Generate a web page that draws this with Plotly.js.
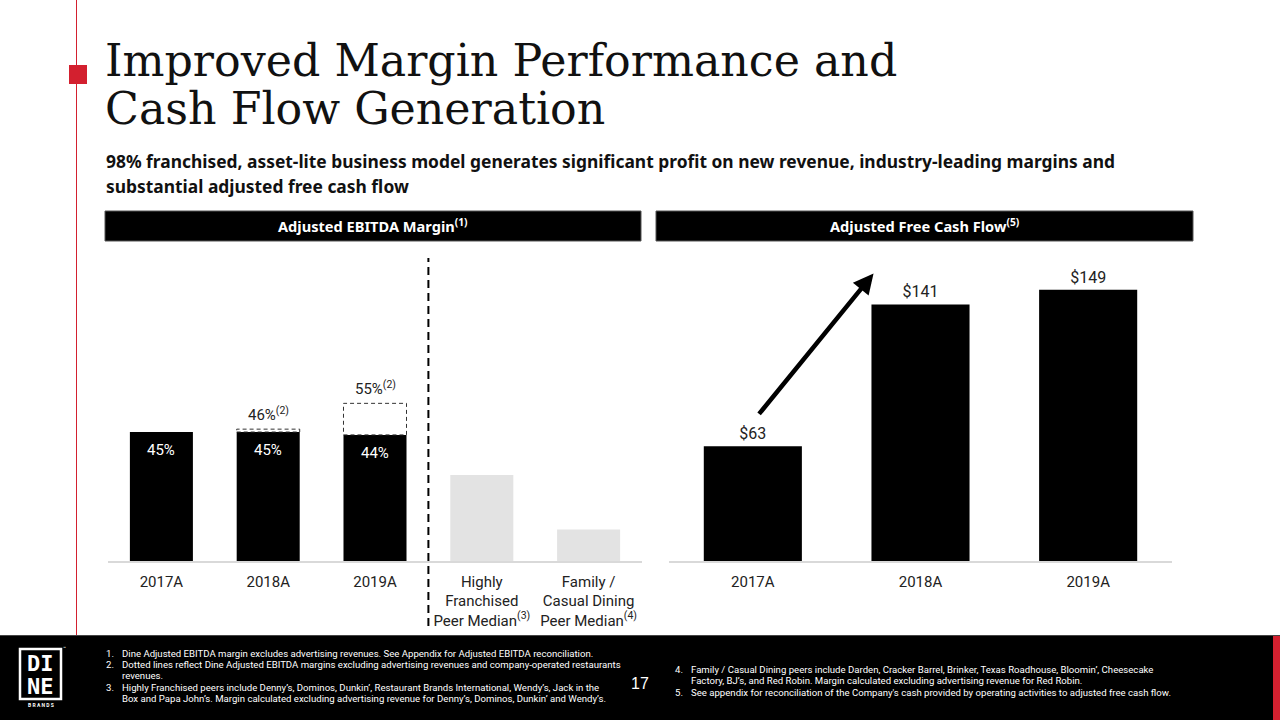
<!DOCTYPE html>
<html><head><meta charset="utf-8">
<script src="https://cdn.plot.ly/plotly-3.0.1.min.js"></script>
<style>html,body{margin:0;padding:0;background:#fff;} #chart{width:1280px;height:720px;}</style>
</head><body><div id="chart"></div>
<script>
// ---------------- DATA ----------------
const marginCats = ['2017A','2018A','2019A',
  'Highly<br>Franchised<br>Peer Median<sup>(3)</sup>',
  'Family /<br>Casual Dining<br>Peer Median<sup>(4)</sup>'];
const dineMargin = [45, 45, 44, null, null];          // Adjusted EBITDA margin (%)
const peerMargin = [null, null, null, 30, 11];         // peer medians (%), estimated
const dineMarginExCo = [null, 46, 55, null, null];     // excl. adv. & company-operated (%)
const fcfCats = ['2017A','2018A','2019A'];
const fcfValues = [63, 141, 149];                      // Adjusted free cash flow ($M)

// ---------------- HELPERS ----------------
const W = 1280, H = 720;
const px = x => x / W;
const py = y => 1 - y / H;
const SANS = 'Roboto, "Noto Sans", sans-serif';
const NOTO = '"Noto Sans", Roboto, sans-serif';
const RED = '#d3202f';

const traces = [
  {type:'bar', x: marginCats, y: dineMargin, xaxis:'x', yaxis:'y', width:0.59,
   marker:{color:'#000000'}, hoverinfo:'skip'},
  {type:'bar', x: marginCats, y: peerMargin, xaxis:'x', yaxis:'y', width:0.59,
   marker:{color:'#e3e3e3'}, hoverinfo:'skip'},
  {type:'bar', x: fcfCats, y: fcfValues, xaxis:'x2', yaxis:'y2', width:0.585,
   marker:{color:'#000000'},
   text: fcfValues.map(v => '$' + v), textposition:'outside', textangle:0,
   textfont:{family:SANS, size:16, color:'#222222'}, cliponaxis:false, hoverinfo:'skip'}
];

const shapes = [];
const annotations = [];
function note(o) {
  annotations.push(Object.assign({xref:'paper', yref:'paper', showarrow:false,
    xanchor:'center', yanchor:'middle'}, o));
}

// value labels inside the Dine bars
dineMargin.forEach((v, i) => {
  if (v == null) return;
  note({xref:'x', yref:'y', x:i, y:v, yanchor:'top', yshift:-7,
    text: v + '%', font:{family:SANS, size:15, color:'#ffffff'}});
});

// dashed boxes for margins excluding company-operated revenues
dineMarginExCo.forEach((v, i) => {
  if (v == null) return;
  shapes.push({type:'rect', xref:'x', yref:'y', x0:i-0.295, x1:i+0.295, y0:dineMargin[i], y1:v,
    line:{color:'#333333', width:1, dash:'4px,3px'}, fillcolor:'rgba(0,0,0,0)', layer:'above'});
  note({xref:'x', yref:'y', x:i, y:v, yanchor:'bottom', yshift:3,
    text: v + '%<sup>(2)</sup>', font:{family:SANS, size:15, color:'#222222'}});
});

// vertical divider between Dine and peers
shapes.push({type:'line', xref:'x', yref:'paper', x0:2.5, x1:2.5, y0:py(626), y1:py(258),
  line:{color:'#000000', width:2, dash:'8px,5px'}});

// arrow on FCF chart
annotations.push({xref:'x2', yref:'y2', axref:'x2', ayref:'y2',
  x:0.72, y:fcfValues[1] + 17, ax:0.03, ay:fcfValues[0] + 17,
  showarrow:true, arrowhead:2, arrowsize:0.9, arrowwidth:4.5, arrowcolor:'#000000', text:'', standoff:0});

// decoration: red left line + square
shapes.push({type:'line', xref:'paper', yref:'paper', x0:px(76.5), x1:px(76.5), y0:py(0), y1:py(636),
  line:{color:RED, width:1}});
shapes.push({type:'rect', xref:'paper', yref:'paper', x0:px(69), x1:px(87), y0:py(65), y1:py(84),
  line:{width:0}, fillcolor:RED});

// section headers
shapes.push({type:'rect', xref:'paper', yref:'paper', x0:px(105), x1:px(641), y0:py(211), y1:py(241),
  line:{color:'#555', width:1}, fillcolor:'#000000'});
shapes.push({type:'rect', xref:'paper', yref:'paper', x0:px(656), x1:px(1193), y0:py(211), y1:py(241),
  line:{color:'#555', width:1}, fillcolor:'#000000'});
note({x:px(373), y:py(225), text:'<b>Adjusted EBITDA Margin<sup>(1)</sup></b>',
  font:{family:NOTO, size:14.6, color:'#ffffff'}});
note({x:px(924.5), y:py(225), text:'<b>Adjusted Free Cash Flow<sup>(5)</sup></b>',
  font:{family:NOTO, size:14.6, color:'#ffffff'}});

// title & subtitle
note({x:px(103), y:py(60), xanchor:'left', text:'Improved Margin Performance and',
  font:{family:'"DejaVu Serif", serif', size:44.3, color:'#111111'}});
note({x:px(103), y:py(108), xanchor:'left', text:'Cash Flow Generation',
  font:{family:'"DejaVu Serif", serif', size:44.3, color:'#111111'}});
note({x:px(104), y:py(161), xanchor:'left',
  text:'<b>98% franchised, asset-lite business model generates significant profit on new revenue, industry-leading margins and</b>',
  font:{family:NOTO, size:17.4, color:'#111111'}});
note({x:px(104), y:py(186), xanchor:'left', text:'<b>substantial adjusted free cash flow</b>',
  font:{family:NOTO, size:17.4, color:'#111111'}});

// footer
shapes.push({type:'rect', xref:'paper', yref:'paper', x0:0, x1:1, y0:0, y1:py(636),
  line:{width:0}, fillcolor:'#000000', layer:'below'});
shapes.push({type:'line', xref:'paper', yref:'paper', x0:0, x1:1, y0:py(635.5), y1:py(635.5),
  line:{color:'#444', width:1}});
shapes.push({type:'rect', xref:'paper', yref:'paper', x0:px(1273), x1:1, y0:0, y1:py(636),
  line:{width:0}, fillcolor:RED});
// logo
shapes.push({type:'rect', xref:'paper', yref:'paper', x0:px(20), x1:px(61), y0:py(699), y1:py(649),
  line:{color:'#ffffff', width:2.5}, fillcolor:'rgba(0,0,0,0)'});
note({x:px(40.5), y:py(663), text:'<b>DI</b>',
  font:{family:'"DejaVu Sans Mono", monospace', size:22, color:'#ffffff'}});
note({x:px(40.5), y:py(686), text:'<b>NE</b>',
  font:{family:'"DejaVu Sans Mono", monospace', size:22, color:'#ffffff'}});
note({x:px(40.5), y:py(705), text:'<b>B R A N D S</b>', font:{family:SANS, size:5, color:'#ffffff'}});
note({x:px(64), y:py(648), text:'™', font:{family:SANS, size:5, color:'#ffffff'}});
note({x:px(640), y:py(683), text:'17', font:{family:'"Liberation Sans", Arial, sans-serif', size:16, color:'#ffffff'}});

const fnLeft = [
  ['1.', 'Dine Adjusted EBITDA margin excludes advertising revenues. See Appendix for Adjusted EBITDA reconciliation.', 653],
  ['2.', 'Dotted lines reflect Dine Adjusted EBITDA margins excluding advertising revenues and company-operated restaurants', 664],
  ['',   'revenues.', 675.5],
  ['3.', 'Highly Franchised peers include Denny’s, Dominos, Dunkin’, Restaurant Brands International, Wendy’s, Jack in the', 687],
  ['',   'Box and Papa John’s. Margin calculated excluding advertising revenue for Denny’s, Dominos, Dunkin’ and Wendy’s.', 698.5]
];
const fnRight = [
  ['4.', 'Family / Casual Dining peers include Darden, Cracker Barrel, Brinker, Texas Roadhouse, Bloomin’, Cheesecake', 669],
  ['',   'Factory, BJ’s, and Red Robin. Margin calculated excluding advertising revenue for Red Robin.', 680.5],
  ['5.', 'See appendix for reconciliation of the Company\'s cash provided by operating activities to adjusted free cash flow.', 692]
];
function addFn(list, xNum, xText) {
  list.forEach(([n, t, y]) => {
    if (n) note({x:px(xNum), y:py(y), xanchor:'left', text:n, font:{family:SANS, size:9.6, color:'#ffffff'}});
    note({x:px(xText), y:py(y), xanchor:'left', text:t, font:{family:SANS, size:9.6, color:'#ffffff'}});
  });
}
addFn(fnLeft, 104, 120);
addFn(fnRight, 673, 689);

const layout = {
  width: W, height: H, margin:{l:0, r:0, t:0, b:0},
  paper_bgcolor:'#ffffff', plot_bgcolor:'rgba(0,0,0,0)',
  showlegend:false, barmode:'overlay',
  font:{family:SANS, color:'#222222'},
  xaxis:{domain:[px(108), px(642)], anchor:'y', type:'category', showgrid:false, zeroline:false,
    showline:true, linecolor:'#d9d9d9', linewidth:1.5, ticks:'', ticklabelstandoff:6,
    tickfont:{family:SANS, size:15, color:'#222222'}, fixedrange:true},
  yaxis:{domain:[py(561), py(250)], anchor:'x', range:[0, 108.5], visible:false, fixedrange:true},
  xaxis2:{domain:[px(669), px(1172)], anchor:'y2', type:'category', showgrid:false, zeroline:false,
    showline:true, linecolor:'#d9d9d9', linewidth:1.5, ticks:'', ticklabelstandoff:6,
    tickfont:{family:SANS, size:15, color:'#222222'}, fixedrange:true},
  yaxis2:{domain:[py(561), py(250)], anchor:'x2', range:[0, 170.9], visible:false, fixedrange:true},
  shapes: shapes, annotations: annotations
};
Plotly.newPlot('chart', traces, layout, {displayModeBar:false, staticPlot:true});
</script>
</body></html>
